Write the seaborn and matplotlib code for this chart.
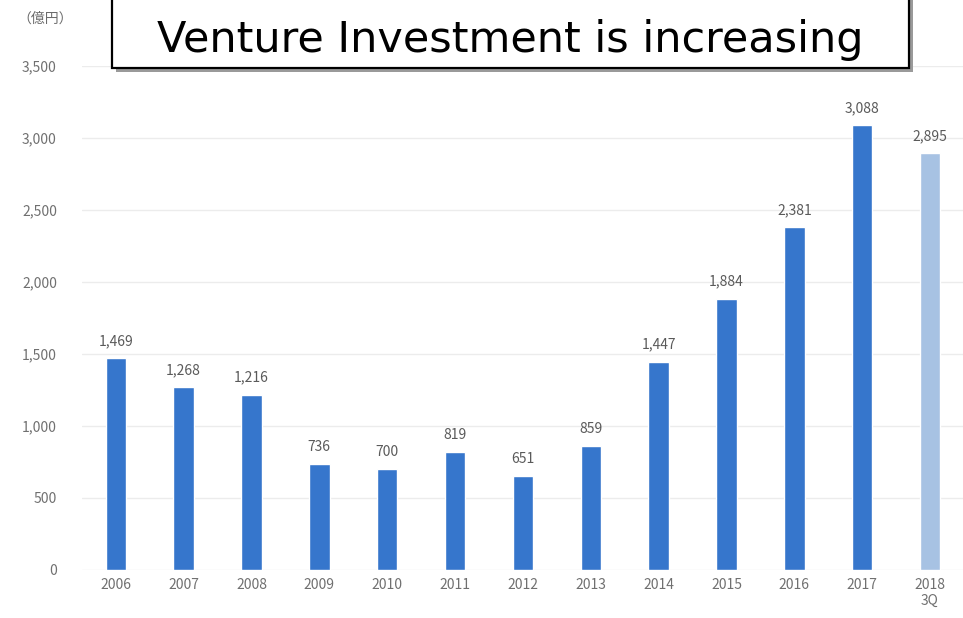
import matplotlib
matplotlib.use('Agg')
import matplotlib.pyplot as plt
import seaborn as sns
import pandas as pd
from matplotlib.patches import Rectangle

# values (億円)
years = ['2006', '2007', '2008', '2009', '2010', '2011', '2012',
         '2013', '2014', '2015', '2016', '2017', '2018\n3Q']
amounts = [1469, 1268, 1216, 736, 700, 819, 651, 859, 1447, 1884, 2381, 3088, 2895]
yticks = [0, 500, 1000, 1500, 2000, 2500, 3000, 3500]

df = pd.DataFrame({'year': years, 'amount': amounts})

sns.set_theme(style='white')
plt.rcParams['font.family'] = ['Noto Sans CJK JP', 'DejaVu Sans']

fig = plt.figure(figsize=(9.63, 6.18), dpi=100)
ax = fig.add_axes([0.085, 0.078, 0.916, 0.815])

colors = ['#3676cc'] * (len(years) - 1) + ['#a7c2e3']
sns.barplot(data=df, x='year', y='amount', hue='year', palette=colors,
            saturation=1, legend=False, width=0.3, ax=ax, zorder=3)

ax.set_ylim(0, 3500)
ax.set_xlim(-0.5, len(years) - 0.5)
ax.set_yticks(yticks)
ax.set_yticklabels([f'{v:,}' for v in yticks])
ax.yaxis.grid(True, color='#ececec', linewidth=1, zorder=0)
ax.set_xlabel('')
ax.set_ylabel('')
for s in ax.spines.values():
    s.set_visible(False)
ax.tick_params(axis='both', length=0, labelsize=10, colors='#707070')
ax.tick_params(axis='y', pad=18)
ax.tick_params(axis='x', pad=6)

for i, v in enumerate(amounts):
    ax.text(i, v + 70, f'{v:,}', ha='center', va='bottom',
            fontsize=10, color='#5a5a5a')

fig.text(0.047, 0.97, '（億円）', ha='center', va='center',
         fontsize=10, color='#6b6b6b')

# title box with drop shadow
shadow = Rectangle((0.120, 0.884), 0.828, 0.2, transform=fig.transFigure,
                   facecolor='#9a9a9a', edgecolor='none', zorder=9)
box = Rectangle((0.116, 0.890), 0.828, 0.2, transform=fig.transFigure,
                facecolor='white', edgecolor='black', linewidth=1.6, zorder=10)
fig.patches.extend([shadow, box])
fig.text(0.530, 0.936, 'Venture Investment is increasing', ha='center',
         va='center', fontsize=31, color='black',
         family=['DejaVu Sans'], zorder=11)

plt.savefig('out.png', dpi=100)
plt.close()
